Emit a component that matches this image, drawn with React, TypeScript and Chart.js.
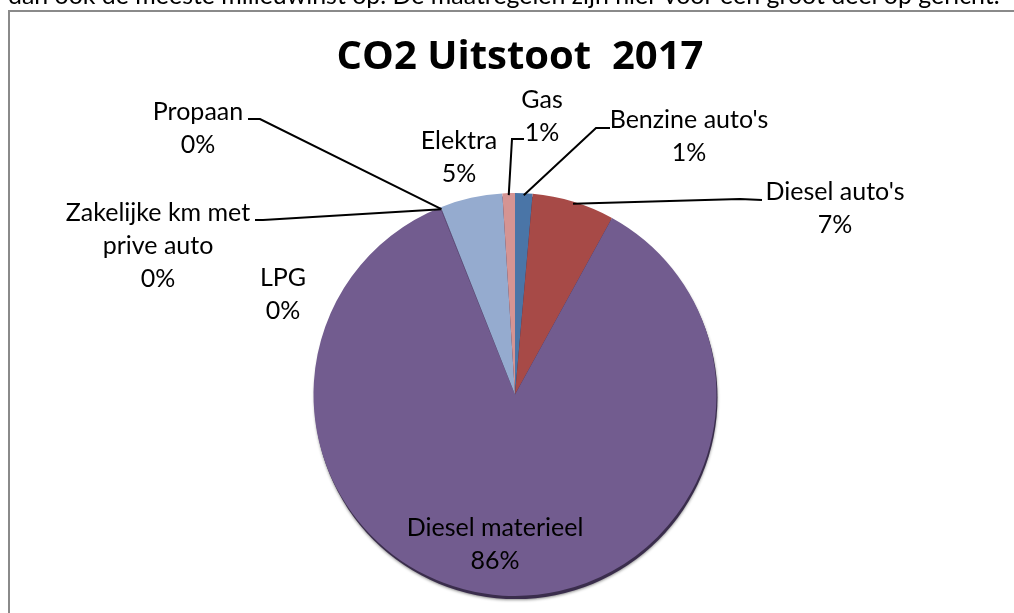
import React, { useEffect, useRef } from "react";
import { Chart, registerables } from "chart.js";

Chart.register(...registerables);

// ---------- data ----------
const categories = [
  "Benzine auto's",
  "Diesel auto's",
  "Diesel materieel",
  "LPG",
  "Zakelijke km met prive auto",
  "Propaan",
  "Elektra",
  "Gas",
];
const values = [1.4, 6.6, 86.0, 0.02, 0.02, 0.02, 5.0, 1.0];
const sliceColors = ["#4A75A7", "#A74A47", "#725C8F", "#725C8F", "#725C8F", "#725C8F", "#95ABCF", "#D59493"];
const titleText = "CO2 Uitstoot  2017";
const pageText = "dan ook de meeste milieuwinst op. De maatregelen zijn hier voor een groot deel op gericht.";

// ---------- layout (label placement, not data) ----------
type Lbl = { x: number; y: number; lines?: string[]; from?: [number, number]; elbow?: [number, number] };
const labelLayout: Lbl[] = [
  { x: 689, y: 120, from: [610, 128], elbow: [596, 128] },
  { x: 835, y: 192, from: [762, 200], elbow: [740, 199] },
  { x: 495, y: 528 },
  { x: 283, y: 278 },
  { x: 158, y: 213, lines: ["Zakelijke km met", "prive auto"], from: [255, 220], elbow: [263, 220] },
  { x: 198, y: 112, from: [248, 119], elbow: [260, 119] },
  { x: 459, y: 141 },
  { x: 542, y: 100, from: [524, 139], elbow: [512, 139] },
];

const FONT = "Lato, 'Open Sans', sans-serif";
const LABEL_SIZE = 25;
const LINE_H = 33;

const decorPlugin = {
  id: "decor",
  beforeDatasetsDraw(chart: any) {
    const meta = chart.getDatasetMeta(0);
    const a = meta.data[0];
    if (!a) return;
    const ctx = chart.ctx;
    ctx.save();
    ctx.shadowColor = "rgba(0,0,0,0.45)";
    ctx.shadowBlur = 3;
    ctx.shadowOffsetY = 1;
    ctx.fillStyle = "#3a2d4c";
    ctx.beginPath();
    ctx.arc(a.x + 1, a.y + 3, a.outerRadius, 0, Math.PI * 2);
    ctx.fill();
    ctx.restore();
  },
  afterDraw(chart: any) {
    const ctx = chart.ctx;
    ctx.save();
    // page text (cut off at top)
    ctx.fillStyle = "#000";
    ctx.textAlign = "left";
    ctx.textBaseline = "alphabetic";
    ctx.font = `22px ${FONT}`;
    const w = ctx.measureText(pageText).width;
    const sz = 22 * (992 / w);
    ctx.font = `${sz}px ${FONT}`;
    ctx.fillText(pageText, 8, 4);

    // frame
    ctx.strokeStyle = "#8a8a8a";
    ctx.lineWidth = 2;
    ctx.beginPath();
    ctx.moveTo(9, 700);
    ctx.lineTo(9, 11);
    ctx.lineTo(1100, 11);
    ctx.stroke();

    // title
    ctx.font = `bold 40px 'Open Sans', Lato, sans-serif`;
    ctx.textAlign = "center";
    ctx.fillText(titleText, 520, 69);

    // labels
    const meta = chart.getDatasetMeta(0);
    const total = values.reduce((s, v) => s + v, 0);
    ctx.font = `${LABEL_SIZE}px ${FONT}`;
    ctx.textBaseline = "middle";
    ctx.textAlign = "center";
    categories.forEach((cat, i) => {
      const L = labelLayout[i];
      const lines = [...(L.lines || [cat]), Math.round((values[i] / total) * 100) + "%"];
      lines.forEach((t, k) => ctx.fillText(t, L.x, L.y + k * LINE_H));
      if (L.from && L.elbow) {
        const arc = meta.data[i];
        const mid = (arc.startAngle + arc.endAngle) / 2;
        const ex = arc.x + Math.cos(mid) * arc.outerRadius * 0.99;
        const ey = arc.y + Math.sin(mid) * arc.outerRadius * 0.99;
        ctx.strokeStyle = "#000";
        ctx.lineWidth = 2;
        ctx.beginPath();
        ctx.moveTo(L.from[0], L.from[1]);
        ctx.lineTo(L.elbow[0], L.elbow[1]);
        ctx.lineTo(ex, ey);
        ctx.stroke();
      }
    });
    ctx.restore();
  },
};

export default function App() {
  const ref = useRef<HTMLCanvasElement | null>(null);
  useEffect(() => {
    if (!ref.current) return;
    const chart = new Chart(ref.current, {
      type: "pie",
      data: {
        labels: categories,
        datasets: [
          {
            data: values,
            backgroundColor: sliceColors,
            borderWidth: 0,
          },
        ],
      },
      options: {
        responsive: false,
        animation: false,
        events: [],
        layout: { padding: { left: 313, right: 297, top: 193, bottom: 17 } },
        plugins: {
          legend: { display: false },
          title: { display: false },
          tooltip: { enabled: false },
        },
      },
      plugins: [decorPlugin],
    });
    return () => chart.destroy();
  }, []);
  return (
    <div style={{ position: "fixed", left: 0, top: 0, width: 1014, height: 613, background: "#fff", overflow: "hidden" }}>
      <canvas ref={ref} width={1014} height={613} style={{ width: 1014, height: 613, display: "block" }} />
    </div>
  );
}
